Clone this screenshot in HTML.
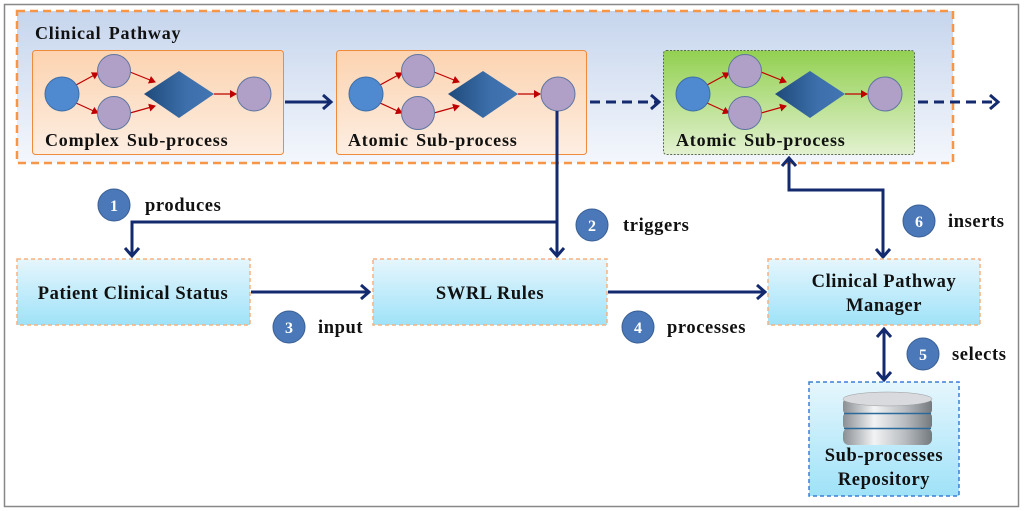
<!DOCTYPE html>
<html><head><meta charset="utf-8"><style>
html,body{margin:0;padding:0;background:#fff;}
svg{display:block;font-family:"Liberation Serif",serif;font-weight:bold;}
.t{font-size:18.5px;letter-spacing:0.6px;}
.s{font-size:18px;letter-spacing:0.8px;word-spacing:2px;}
</style></head><body>
<svg width="1024" height="511" viewBox="0 0 1024 511" xmlns="http://www.w3.org/2000/svg">
<defs>
<linearGradient id="gBlue" x1="0" y1="0" x2="0" y2="1"><stop offset="0" stop-color="#c6d5ed"/><stop offset="1" stop-color="#f4f7fc"/></linearGradient>
<linearGradient id="gOr" x1="0" y1="0" x2="0" y2="1"><stop offset="0" stop-color="#fcd3b0"/><stop offset="1" stop-color="#fdeee2"/></linearGradient>
<linearGradient id="gGr" x1="0" y1="0" x2="0" y2="1"><stop offset="0" stop-color="#92d050"/><stop offset="1" stop-color="#e2f1d0"/></linearGradient>
<linearGradient id="gCy" x1="0" y1="0" x2="0" y2="1"><stop offset="0" stop-color="#e6f6fd"/><stop offset="1" stop-color="#9fe2f8"/></linearGradient>
<linearGradient id="gDia" x1="0" y1="0" x2="1" y2="0"><stop offset="0" stop-color="#1f4a7a"/><stop offset="0.6" stop-color="#3c6fab"/><stop offset="1" stop-color="#4275b2"/></linearGradient>
<linearGradient id="gDisk" x1="0" y1="0" x2="1" y2="0"><stop offset="0" stop-color="#8a8f94"/><stop offset="0.35" stop-color="#f2f3f4"/><stop offset="0.7" stop-color="#b8bcc0"/><stop offset="1" stop-color="#74797e"/></linearGradient>
<marker id="ar" markerWidth="8" markerHeight="8" refX="6" refY="4" orient="auto" markerUnits="userSpaceOnUse"><path d="M0,0 L7,4 L0,8 z" fill="#c00000"/></marker>
<g id="flow">
<line x1="76" y1="85" x2="98" y2="73" stroke="#c00000" stroke-width="1.2" marker-end="url(#ar)"/>
<line x1="76" y1="103" x2="98" y2="113" stroke="#c00000" stroke-width="1.2" marker-end="url(#ar)"/>
<line x1="130" y1="72" x2="155" y2="82" stroke="#c00000" stroke-width="1.2" marker-end="url(#ar)"/>
<line x1="130" y1="113" x2="155" y2="106" stroke="#c00000" stroke-width="1.2" marker-end="url(#ar)"/>
<line x1="214" y1="94" x2="236" y2="94" stroke="#c00000" stroke-width="1.2" marker-end="url(#ar)"/>
<circle cx="62" cy="94" r="17" fill="#4f8ad1" stroke="#3d6ea8"/>
<circle cx="114" cy="71" r="16.5" fill="#b09fc6" stroke="#5e76a0"/>
<circle cx="114" cy="113" r="16.5" fill="#b09fc6" stroke="#5e76a0"/>
<polygon points="144,94 179,71 214,94 179,118" fill="url(#gDia)"/>
<circle cx="254" cy="94" r="17" fill="#b09fc6" stroke="#5e76a0"/>
</g>
</defs>
<rect x="4.5" y="4.5" width="1014" height="502" fill="#fff" stroke="#888" stroke-width="1.5"/>
<rect x="17" y="11" width="936" height="152" fill="url(#gBlue)" stroke="#f79646" stroke-width="2.5" stroke-dasharray="8,5"/>
<text x="35" y="39" class="s" fill="#111">Clinical Pathway</text>
<rect x="32.5" y="50.5" width="251" height="104" rx="3" fill="url(#gOr)" stroke="#f08a3c"/>
<use href="#flow"/>
<text x="45" y="146" class="s" fill="#111">Complex Sub-process</text>
<rect x="336.5" y="50.5" width="250" height="104" rx="3" fill="url(#gOr)" stroke="#f08a3c"/>
<use href="#flow" transform="translate(304,0)"/>
<text x="348" y="146" class="s" fill="#111">Atomic Sub-process</text>
<rect x="663.5" y="50.5" width="251" height="104" rx="3" fill="url(#gGr)" stroke="#5a6a50" stroke-dasharray="2,1.5"/>
<use href="#flow" transform="translate(631,0)"/>
<text x="676" y="146" class="s" fill="#111">Atomic Sub-process</text>
<g stroke="#132a6e" stroke-width="3" fill="none" stroke-linejoin="miter">
<line x1="285" y1="102" x2="331" y2="102"/><polyline points="323,95 331,102 323,109"/>
<line x1="590" y1="102" x2="659" y2="102" stroke-dasharray="10,6"/><polyline points="651,95 659,102 651,109"/>
<line x1="918" y1="102" x2="998" y2="102" stroke-dasharray="10,6"/><polyline points="990,95 998,102 990,109"/>
<polyline points="557,111 557,255"/><polyline points="550,248 557,256 564,248"/>
<polyline points="557,222 132,222 132,255"/><polyline points="125,248 132,256 139,248"/>
<line x1="251" y1="292" x2="369" y2="292"/><polyline points="361,285 369,292 361,299"/>
<line x1="608" y1="292" x2="765" y2="292"/><polyline points="757,285 765,292 757,299"/>
<polyline points="883,256 883,190 789,190 789,158"/><polyline points="782,166 789,158 796,166"/><polyline points="876,249 883,257 890,249"/>
<line x1="884" y1="329" x2="884" y2="380"/><polyline points="877,337 884,329 891,337"/><polyline points="877,372 884,380 891,372"/>
</g>
<g stroke="#f5b27f" stroke-width="1.5" stroke-dasharray="4,3" fill="url(#gCy)">
<rect x="17" y="259" width="233" height="66"/>
<rect x="373" y="259" width="234" height="66"/>
<rect x="768" y="259" width="212" height="66"/>
</g>
<rect x="809" y="382" width="150" height="114" fill="url(#gCy)" stroke="#3b7fd6" stroke-width="1.5" stroke-dasharray="4,3"/>
<g text-anchor="middle" class="t" fill="#111">
<text x="133" y="299">Patient Clinical Status</text>
<text x="490" y="299">SWRL Rules</text>
<text x="884" y="287">Clinical Pathway</text>
<text x="884" y="311">Manager</text>
<text x="884" y="461">Sub-processes</text>
<text x="884" y="485">Repository</text>
</g>
<g>
<rect x="843" y="428" width="89" height="17" rx="6" fill="url(#gDisk)"/>
<rect x="843" y="413" width="89" height="16" rx="4" fill="url(#gDisk)"/>
<rect x="843" y="399" width="89" height="15" rx="4" fill="url(#gDisk)"/>
<ellipse cx="887.5" cy="399" rx="44.5" ry="7" fill="#d8dadd" stroke="#999" stroke-width="0.5"/>
<line x1="844" y1="413.5" x2="931" y2="413.5" stroke="#2c6a9c" stroke-width="1.5"/>
<line x1="844" y1="428.5" x2="931" y2="428.5" stroke="#2c6a9c" stroke-width="1.5"/>
</g>
<g fill="#4a78b8" stroke="#3a5f95">
<circle cx="114" cy="205" r="16"/><circle cx="592" cy="225" r="16"/><circle cx="289" cy="327" r="16"/>
<circle cx="638" cy="327" r="16"/><circle cx="923" cy="354" r="16"/><circle cx="919" cy="221" r="16"/>
</g>
<g fill="#fff" font-size="16" text-anchor="middle">
<text x="114" y="211">1</text><text x="592" y="231">2</text><text x="289" y="333">3</text>
<text x="638" y="333">4</text><text x="923" y="360">5</text><text x="919" y="227">6</text>
</g>
<g class="t" fill="#111">
<text x="145" y="211">produces</text>
<text x="623" y="231">triggers</text>
<text x="318" y="333">input</text>
<text x="667" y="333">processes</text>
<text x="952" y="360">selects</text>
<text x="948" y="227">inserts</text>
</g>
</svg>
</body></html>
